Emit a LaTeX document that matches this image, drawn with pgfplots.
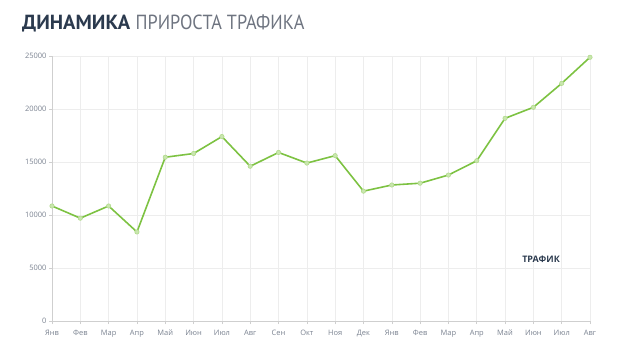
\documentclass[border=0pt]{standalone}
\usepackage{fontspec}
\setmainfont{Open Sans}
\newfontfamily\titlefont{PT Sans}
\usepackage{graphicx}
\usepackage{pgfplots}
\pgfplotsset{compat=1.18}
\definecolor{linegreen}{HTML}{7DC242}
\definecolor{markfill}{HTML}{C9E6AE}
\definecolor{navy}{HTML}{2B3A4E}
\definecolor{titlegray}{HTML}{6E7480}
\definecolor{ticklab}{HTML}{7A8290}
\definecolor{gridc}{HTML}{EDEDED}
\definecolor{axc}{HTML}{CFCFCF}
\begin{document}
\begin{tikzpicture}[x=1bp,y=1bp]
\useasboundingbox (0,0) rectangle (624,352);
\node[anchor=base west, inner sep=0pt] at (22,323) {\titlefont\fontsize{20.5}{24}\selectfont\textbf{\color{navy}ДИНАМИКА} \scalebox{0.89}[1]{\color{titlegray}ПРИРОСТА ТРАФИКА}};
\begin{axis}[
  at={(52bp,31bp)}, anchor=south west,
  scale only axis, width=538bp, height=265bp,
  xmin=0, xmax=19, ymin=0, ymax=25000,
  xtick={0,...,19},
  xticklabels={Янв,Фев,Мар,Апр,Май,Июн,Июл,Авг,Сен,Окт,Ноя,Дек,Янв,Фев,Мар,Апр,Май,Июн,Июл,Авг},
  ytick={0,5000,10000,15000,20000,25000},
  yticklabels={0,5000,10000,15000,20000,25000},
  scaled y ticks=false,
  /pgf/number format/assume math mode=true,
  axis lines=left, axis line style={-, draw=axc, line width=0.8pt},
  grid=major, major grid style={draw=gridc, line width=0.6pt},
  major tick length=3bp, tick style={draw=axc, line width=0.6pt},
  tick align=outside,
  ticklabel style={font=\fontsize{7.5}{9}\selectfont, text=ticklab},
  yticklabel style={xshift=1bp},
  xticklabel style={yshift=1bp, text height=1.6ex, text depth=0.3ex, anchor=north},
  clip=false,
]
\addplot[color=linegreen, line width=1.6pt, mark=*, mark size=2.2pt,
  mark options={fill=markfill, draw=markfill!70!linegreen, line width=0.6pt}]
coordinates {
(0,10850) (1,9700) (2,10850) (3,8400) (4,15450) (5,15800) (6,17400) (7,14600)
(8,15900) (9,14900) (10,15600) (11,12250) (12,12830) (13,13000) (14,13770)
(15,15120) (16,19120) (17,20160) (18,22420) (19,24880)
};
\node[font=\fontsize{9}{11}\selectfont\bfseries, text=navy] at (axis cs:17.27,5850) {ТРАФИК};
\end{axis}
\end{tikzpicture}
\end{document}
